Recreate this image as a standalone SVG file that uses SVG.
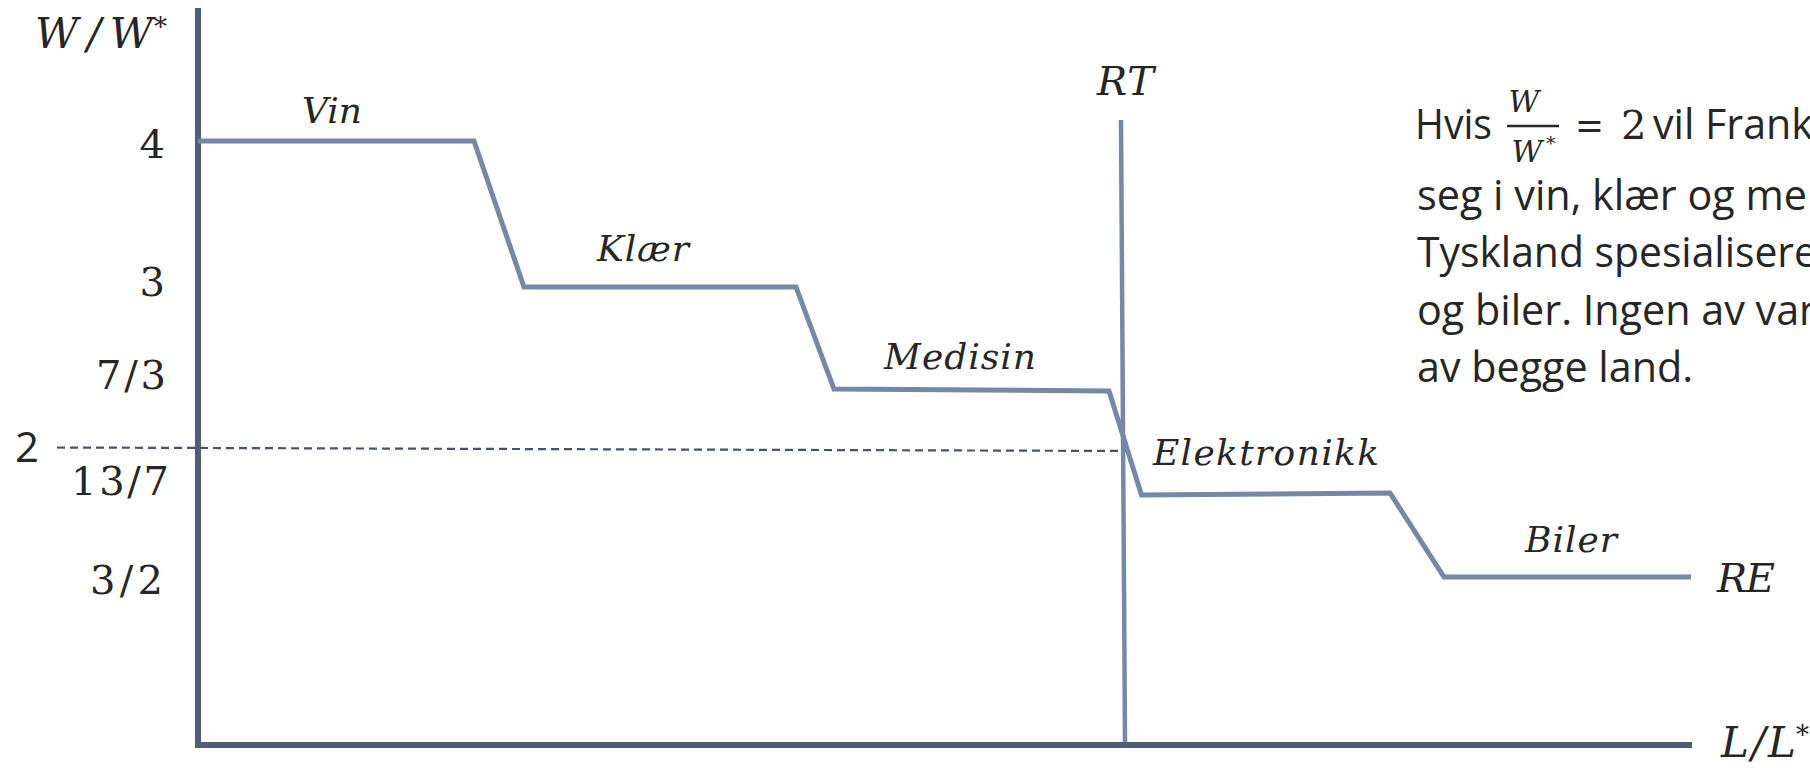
<svg xmlns="http://www.w3.org/2000/svg" width="1810" height="768" viewBox="0 0 1810 768">
<style>
.axis{stroke:#4d5e78;stroke-width:6;fill:none;stroke-linejoin:miter}
.curve{stroke:#7588a8;stroke-width:5;fill:none;stroke-linejoin:miter}
.rt{stroke:#7588a8;stroke-width:4.5;fill:none}
.dash{stroke:#44546a;stroke-width:2.2;stroke-dasharray:8 5;fill:none}
.m{font-family:"DejaVu Serif",serif;fill:#262626}
.mi{font-family:"DejaVu Serif",serif;font-style:italic;fill:#262626}
.s{font-family:"Open Sans",sans-serif;fill:#262626}
</style>
<rect width="1810" height="768" fill="#ffffff"/>
<g id="connectors">
<path id="axes" class="axis" d="M198,8 V745 H1692"/>
<path id="dash-2" class="dash" d="M57,447.5 L1127,451"/>
<path id="RE" class="curve" d="M198,141 L474,141 L524,287 L796,287 L834,389 L1109,391 L1141.5,495 L1390,493 L1444,577 L1691,577"/>
<path id="RT" class="rt" d="M1121,120 L1125,742"/>
</g>
<g id="y-label"><text class="mi" x="35" y="48" font-size="42" textLength="118">W/W</text><text class="mi" x="154" y="36" font-size="26">*</text></g>
<g id="x-label"><text class="mi" x="1721" y="757" font-size="42" textLength="75">L/L</text><text class="mi" x="1796" y="744" font-size="26">*</text></g>
<g id="ticks">
<text class="m" x="165" y="158" font-size="40" text-anchor="end">4</text>
<text class="m" x="165" y="296" font-size="40" text-anchor="end">3</text>
<text class="m" x="96" y="389" font-size="40" textLength="70">7/3</text>
<text class="s" x="15" y="462" font-size="42">2</text>
<text class="m" x="71" y="495" font-size="40" textLength="98">13/7</text>
<text class="m" x="90" y="594" font-size="40" textLength="73">3/2</text>
</g>
<g id="lbl-vin"><text class="mi" x="302" y="123" font-size="36" textLength="60">Vin</text></g>
<g id="lbl-klaer"><text class="mi" x="597" y="261" font-size="36" textLength="92">Klær</text></g>
<g id="lbl-medisin"><text class="mi" x="884" y="369" font-size="36" textLength="152">Medisin</text></g>
<g id="lbl-elektronikk"><text class="mi" x="1153" y="465" font-size="36" textLength="226">Elektronikk</text></g>
<g id="lbl-biler"><text class="mi" x="1525" y="552" font-size="36" textLength="92">Biler</text></g>
<g id="lbl-RT"><text class="mi" x="1097" y="95" font-size="40" textLength="57">RT</text></g>
<g id="lbl-RE"><text class="mi" x="1717" y="592" font-size="40" textLength="58">RE</text></g>
<g id="note">
<text class="s" x="1415" y="139" font-size="42" textLength="77" lengthAdjust="spacingAndGlyphs">Hvis</text>
<text class="mi" x="1524" y="112" font-size="30" text-anchor="middle">W</text>
<line x1="1507" y1="126" x2="1559" y2="126" stroke="#262626" stroke-width="2.5"/>
<text class="mi" x="1527" y="162" font-size="30" text-anchor="middle">W</text>
<text class="mi" x="1546" y="150" font-size="19">*</text>
<text class="m" x="1575" y="139" font-size="40" textLength="29" lengthAdjust="spacingAndGlyphs">=</text>
<text class="m" x="1621" y="139" font-size="40">2</text>
<text class="s" x="1653" y="139" font-size="42" textLength="160" lengthAdjust="spacingAndGlyphs">vil Frank</text>
<text class="s" x="1417" y="210" font-size="42" textLength="390" lengthAdjust="spacingAndGlyphs">seg i vin, klær og me</text>
<text class="s" x="1417" y="267" font-size="42" textLength="400" lengthAdjust="spacingAndGlyphs">Tyskland spesialisere</text>
<text class="s" x="1417" y="325" font-size="42" textLength="399" lengthAdjust="spacingAndGlyphs">og biler. Ingen av var</text>
<text class="s" x="1417" y="382" font-size="42" textLength="276" lengthAdjust="spacingAndGlyphs">av begge land.</text>
</g>
</svg>
